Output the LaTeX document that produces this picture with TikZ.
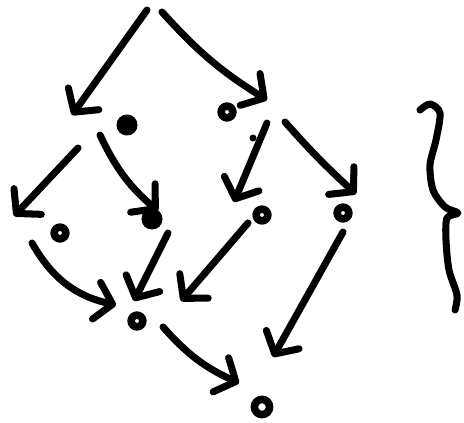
\documentclass[tikz,border=0pt]{standalone}
\usetikzlibrary{arrows.meta}
\begin{document}
\begin{tikzpicture}[
    x=0.03cm, y=-0.03cm,
    line width=6pt, line cap=round, line join=round,
    every node/.style={circle, inner sep=0pt},
    ring/.style={draw, line width=6.5pt, minimum size=10pt},
    blob/.style={fill, minimum size=18pt},
    arr/.style={-{Straight Barb[round,length=14pt,width=32pt]}}
]
\useasboundingbox (0,0) rectangle (464,423);

% the points
\node[blob] (a) at (127,125) {};
\node[ring] (b) at (227,112) {};
\node[fill, minimum size=6pt] (speck) at (253,138) {};
\node[ring] (c) at (60,233) {};
\node[blob] (d) at (152,219) {};
\node[ring] (e) at (262,215) {};
\node[ring] (f) at (343,213) {};
\node[ring] (g) at (137,321) {};
\node[ring, minimum size=13pt] (h) at (262,407) {};

% arrow ends
\coordinate (s1) at (147,10);  \coordinate (t1) at (72,115);
\coordinate (s2) at (162,12);  \coordinate (t2) at (267,100);
\coordinate (s3) at (78,148);  \coordinate (t3) at (14,216);
\coordinate (s4) at (100,135); \coordinate (t4) at (158,211);
\coordinate (s5) at (267,123); \coordinate (t5) at (234,202);
\coordinate (s6) at (285,122); \coordinate (t6) at (356,194);
\coordinate (s7) at (32,243);  \coordinate (t7) at (116,305);
\coordinate (s8) at (168,233); \coordinate (t8) at (134,301);
\coordinate (s9) at (248,223); \coordinate (t9) at (181,301);
\coordinate (s10) at (343,232); \coordinate (t10) at (273,357);
\coordinate (s11) at (163,327); \coordinate (t11) at (239,383);

\draw[arr] (s1) -- (t1);
\draw[arr] (s2) to[bend right=8] (t2);
\draw[arr] (s3) -- (t3);
\draw[arr] (s4) to[bend right=12] (t4);
\draw[arr] (s5) -- (t5);
\draw[arr] (s6) to[bend right=3] (t6);
\draw[arr] (s7) to[bend right=24] (t7);
\draw[arr] (s8) -- (t8);
\draw[arr] (s9) -- (t9);
\draw[arr] (s10) -- (t10);
\draw[arr] (s11) to[bend right=12] (t11);

% brace
\draw plot[smooth] coordinates {(420,110) (430,104) (440,113) (436,140) (430,165)
    (433,190) (445,207) (458,213) (447,218) (446,240) (449,270) (457,295) (455,310)};
\end{tikzpicture}
\end{document}
